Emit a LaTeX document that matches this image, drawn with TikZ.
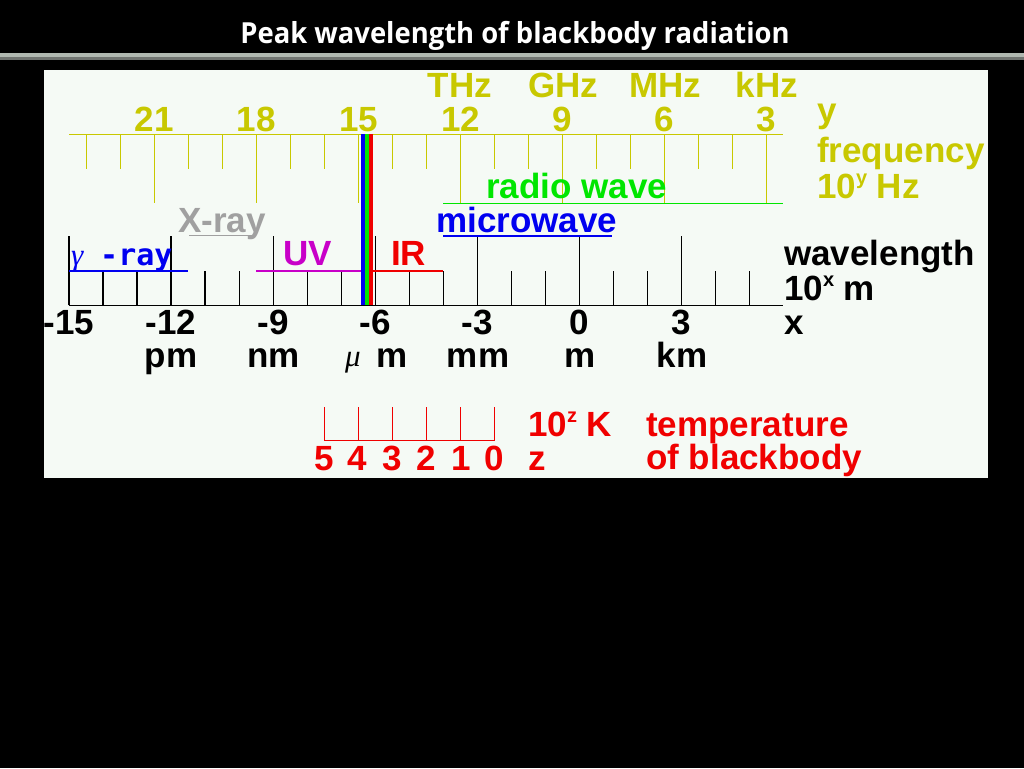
\documentclass[tikz,border=0pt]{standalone}
\usepackage{graphicx}
\usepackage{fontspec}
\setmainfont{Liberation Sans}
\newfontfamily\monof{DejaVu Sans Mono}
\newfontfamily\titlef{Open Sans}
\newfontfamily\greekf{Liberation Serif}
\definecolor{panelbg}{HTML}{F5FAF5}
\definecolor{olive}{HTML}{C8C800}
\definecolor{xgrey}{HTML}{A0A0A0}
\definecolor{uvmag}{HTML}{C800C8}
\definecolor{rgreen}{HTML}{00E600}
\definecolor{mblue}{HTML}{0000F0}
\definecolor{tred}{HTML}{F00000}
\definecolor{barlight}{HTML}{B0B8B0}
\definecolor{bardark}{HTML}{707470}
\newcommand\supx[1]{\smash{\raisebox{14pt}{\fontsize{20}{20}\selectfont #1}}}
\begin{document}
\begin{tikzpicture}[x=1pt,y=-1pt,
  lbl/.style={inner sep=0pt, text height=26pt, text depth=7pt, font=\fontsize{35}{40}\selectfont\bfseries},
  greek/.style={inner sep=0pt, font=\greekf\itshape\fontsize{31}{31}\selectfont},
  fq/.style={draw=olive, line width=1pt},
  wl/.style={draw=black, line width=1.2pt},
  band/.style={line width=1.2pt}]
\useasboundingbox (0,0) rectangle (1024,768);
\fill[black] (0,0) rectangle (1024,768);
% title and bar
\node[anchor=base, inner sep=0pt, text=white, font=\titlef\bfseries\fontsize{29}{30}\selectfont] (title) at (515,43.3) {\scalebox{0.945}[1]{Peak wavelength of blackbody radiation}};
\fill[barlight] (0,52.7) rectangle (1024,56.7);
\fill[bardark] (0,56.7) rectangle (1024,60);
% panel
\fill[panelbg] (44,70) rectangle (988,478);
% frequency axis
\draw[fq] (69,134.3) -- (783,134.3);
\foreach \k in {3,...,23}{
  \pgfmathsetmacro\xx{154.3+(21-\k)*34.02}
  \pgfmathtruncatemacro\mm{mod(\k,3)}
  \ifnum\mm=0 \draw[fq] (\xx,134.3) -- (\xx,203.3);
  \else \draw[fq] (\xx,134.3) -- (\xx,169.3); \fi
}
\foreach \v/\px in {21/154.3,18/256.4,15/358.5,12/460.6,9/562.6,6/664.7,3/766.7}
  \node[lbl, text=olive, anchor=base] (f\v) at (\px,131) {\v};
\foreach \u/\px in {THz/460,GHz/563,MHz/665.5,kHz/766.7}
  \node[lbl, text=olive, anchor=base] (u\u) at (\px,97) {\u};
\node[lbl, text=olive, anchor=base west] (fy) at (817,122) {y};
\node[lbl, text=olive, anchor=base west] (ffreq) at (817,162) {frequency};
\node[lbl, text=olive, anchor=base west] (fhz) at (817,198) {10\supx{y} Hz};
% wavelength axis
\draw[wl] (69,305.3) -- (783,305.3);
\foreach \k in {-15,...,5}{
  \pgfmathsetmacro\xx{579.3+\k*34.02}
  \pgfmathtruncatemacro\mm{mod(\k,3)}
  \ifnum\mm=0 \draw[wl] (\xx,305.3) -- (\xx,236);
  \else \draw[wl] (\xx,305.3) -- (\xx,271); \fi
}
\foreach \n/\v/\px in {m15/-15/69,m12/-12/171,m9/-9/273,m6/-6/375,m3/-3/477,p0/0/579.3,p3/3/681.3}
  \node[lbl, anchor=base] (w\n) at (\px,334) {\v};
\foreach \u/\px in {pm/171,nm/273.5,mm/478,m/580,km/682}
  \node[lbl, anchor=base] (wu\u) at (\px,367) {\u};
\node[greek, anchor=base west] (wmu) at (345,366) {μ};
\node[lbl, anchor=base west] (wmum) at (376,367) {m};
\node[lbl, anchor=base west] (wlen) at (784,265) {wavelength};
\node[lbl, anchor=base west] (wpow) at (784,300) {10\supx{x} m};
\node[lbl, anchor=base west] (wx) at (784,334) {x};
% spectrum bands
\draw[band, rgreen] (443,203.3) -- (783,203.3);
\draw[band, mblue] (443,236) -- (612,236);
\draw[band, xgrey] (189,235.7) -- (252,235.7);
\draw[band, mblue] (69,271) -- (188,271);
\draw[band, uvmag] (256,271) -- (361,271);
\draw[band, tred] (372,271) -- (443,271);
\node[lbl, text=rgreen, anchor=base west] (lradio) at (486,198) {radio wave};
\node[lbl, text=mblue, anchor=base west] (lmicro) at (436,232) {microwave};
\node[lbl, text=xgrey, anchor=base west] (lxray) at (178,232) {X-ray};
\node[inner sep=0pt, text=mblue, anchor=base west, font=\greekf\itshape\fontsize{31}{31}\selectfont] (lgamma) at (71,265) {γ};
\node[inner sep=0pt, text=mblue, anchor=base west, font=\monof\bfseries\fontsize{30}{30}\selectfont] (lray) at (100,265) {-ray};
\node[lbl, text=uvmag, anchor=base west] (luv) at (283,265) {UV};
\node[lbl, text=tred, anchor=base west] (lir) at (391,265) {IR};
% visible light
\fill[mblue] (361,134.3) rectangle (365,305.3);
\fill[rgreen] (365,134.3) rectangle (369,305.3);
\fill[tred] (369,134.3) rectangle (372.5,305.3);
% temperature scale
\draw[tred, line width=1pt] (324.3,407.3) -- (324.3,440) -- (494,440) -- (494,407.3);
\foreach \px in {358.2,392.1,426.5,460.4}
  \draw[tred, line width=1pt] (\px,407.3) -- (\px,440);
\foreach \v/\px in {5/324,4/357.5,3/392,2/426.7,1/461,0/494.7}
  \node[lbl, text=tred, anchor=base] (t\v) at (\px,470.7) {\v};
\node[lbl, text=tred, anchor=base west] (tz) at (528,470.7) {z};
\node[lbl, text=tred, anchor=base west] (tpow) at (528,436.7) {10\supx{z} K};
\node[lbl, text=tred, anchor=base west] (ttemp) at (646,436.7) {temperature};
\node[lbl, text=tred, anchor=base west] (tbb) at (646,469) {of blackbody};
\end{tikzpicture}
\end{document}
